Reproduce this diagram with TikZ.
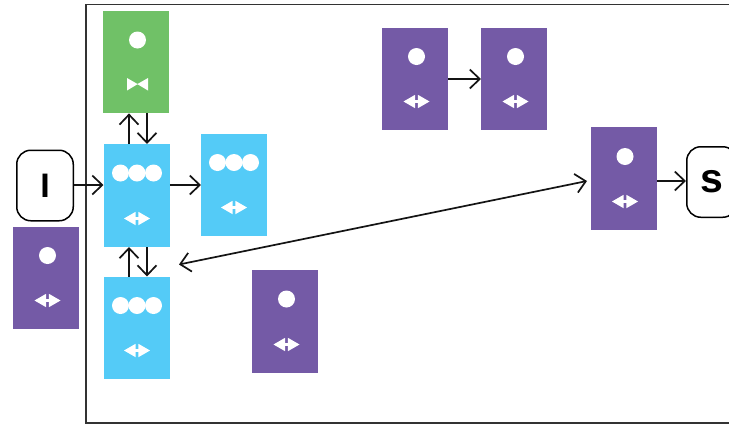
\documentclass[tikz,border=0pt]{standalone}
\usepackage{fontspec}
\setmainfont{Liberation Sans}
\usetikzlibrary{arrows.meta}
\definecolor{cgreen}{HTML}{70C167}
\definecolor{cblue}{HTML}{54CBF7}
\definecolor{cpurple}{HTML}{745AA6}
\tikzset{
  x=1pt,y=-1pt,
  cardbox/.style={draw=none,inner sep=0pt,minimum width=66pt,minimum height=102.5pt,anchor=north west},
  greencard/.style={cardbox,fill=cgreen},
  bluecard/.style={cardbox,fill=cblue},
  purplecard/.style={cardbox,fill=cpurple},
  dot/.style={circle,fill=white,draw=none,inner sep=0pt,minimum size=17pt},
  link/.style={draw=black!92,line width=1.7pt,-{Straight Barb[length=10pt,width=19pt,line width=1.7pt]}},
  twolink/.style={draw=black!92,line width=1.7pt,{Straight Barb[length=10pt,width=19pt,line width=1.7pt]}-{Straight Barb[length=10pt,width=19pt,line width=1.7pt]}},
  term/.style={draw=black,line width=1.5pt,fill=white,rounded corners=14pt,inner sep=0pt,minimum height=70.5pt,anchor=north west,font=\bfseries\fontsize{34}{34}\selectfont},
}
\begin{document}
\begin{tikzpicture}
\useasboundingbox (0,0) rectangle (729,424);
\fill[white] (0,0) rectangle (729,424);
\coordinate (frameA) at (86,4.5);
\coordinate (frameB) at (740,423);
\draw[line width=1.9pt,draw=black!80] (frameA) rectangle (frameB);

\node[greencard] (g) at (102.5,10.5) {};
\node[bluecard] (b1) at (103.5,144) {};
\node[bluecard] (b2) at (201,133.5) {};
\node[bluecard] (b3) at (103.5,276.5) {};
\node[purplecard] (p0) at (13,226.5) {};
\node[purplecard] (p1) at (382,27.5) {};
\node[purplecard] (p2) at (481,27.5) {};
\node[purplecard] (p3) at (590.5,127) {};
\node[purplecard] (p4) at (252,270) {};

\node[dot] (gd) at (137.5,40) {};
\fill[white] (127,78) -- (137.5,84) -- (148,78) -- (148,90.5) -- (137.5,84.2) -- (127,90.5) -- cycle;

\foreach \n/\cx/\cy in {b1/137/173,b2/234/162.5,b3/137/305.5}{
  \node[dot] (\n a) at (\cx-16.5,\cy) {};
  \node[dot] (\n b) at (\cx,\cy) {};
  \node[dot] (\n c) at (\cx+16.5,\cy) {};
}
\foreach \n/\cx/\cy in {p0/47.5/255.5,p1/416.5/56.5,p2/515.5/56.5,p3/625/156.5,p4/286.5/299}{
  \node[dot] (\n d) at (\cx,\cy) {};
}
\foreach \cx/\cy in {137/218,234/207,137/350,47.5/300,416.5/101,515.5/101,625/201,286.5/344}{
  \fill[white] (\cx-13,\cy+0.5) -- (\cx-1.4,\cy-6.2) -- (\cx-1.4,\cy+7.2) -- cycle;
  \fill[white] (\cx+13,\cy+0.5) -- (\cx+1.4,\cy-6.2) -- (\cx+1.4,\cy+7.2) -- cycle;
  \fill[white] (\cx-2,\cy-0.9) rectangle (\cx+2,\cy+1.9);
}

\node[term,minimum width=56.5pt] (I) at (16,149.5) {I};
\node[term,minimum width=50pt,font=\bfseries\fontsize{41}{41}\selectfont] (S) at (686,146) {s};

\draw[link] (I.east |- 0,185) -- (b1.west |- 0,185);
\draw[link] (b1.east |- 0,185) -- (b2.west |- 0,185);
\draw[link] (129,144) -- (g.south -| 129,0);
\draw[link] (g.south -| 147,0) -- (147,144);
\draw[link] (129,276.5) -- (129,247);
\draw[link] (147,247) -- (147,276.5);
\draw[link] (p1.east |- 0,79) -- (p2.west |- 0,79);
\draw[link] (p3.east |- 0,181) -- (S.west |- 0,181);
\coordinate (dl) at (179,264.5);
\coordinate (dr) at (587,181);
\draw[twolink] (dl) -- (dr);
\end{tikzpicture}
\end{document}
